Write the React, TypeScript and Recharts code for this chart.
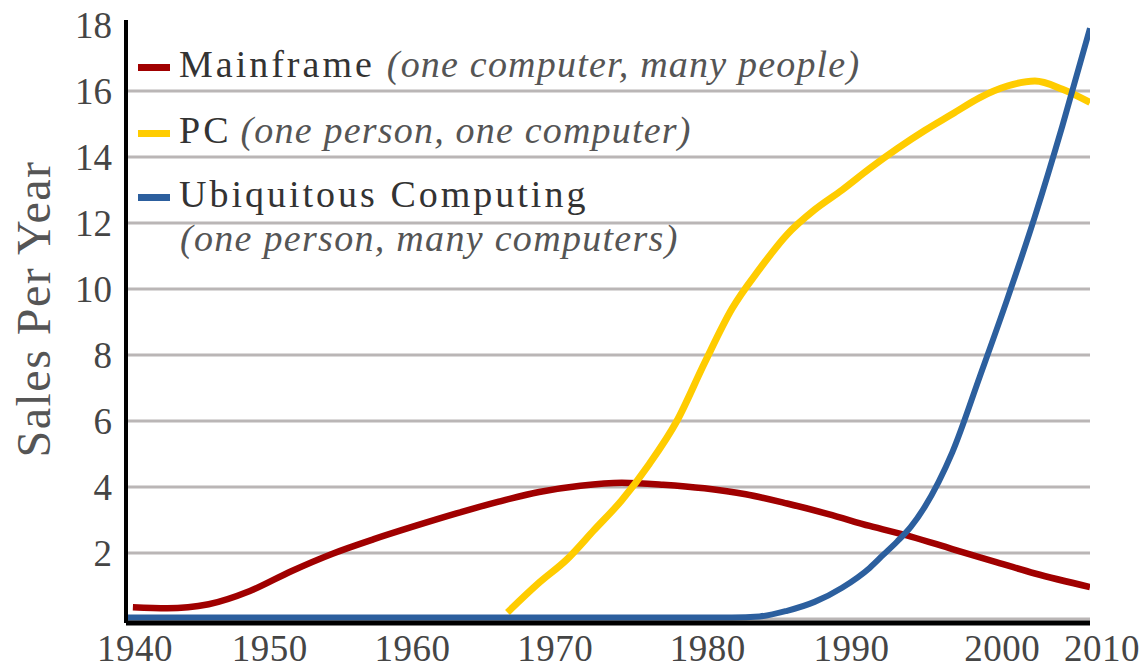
import { LineChart, Line, XAxis, YAxis, CartesianGrid, Legend, Label } from "recharts";

const YEAR_TICKS = [1940, 1950, 1960, 1970, 1980, 1990, 2000, 2010];
const SALES_TICKS = [2, 4, 6, 8, 10, 12, 14, 16, 18];
const GRID_VALUES = [0, 2, 4, 6, 8, 10, 12, 14, 16];

// the year labels in the original sit a bit off their gridpoints
const TICK_NUDGE: Record<number, number> = {
  1940: 9, 1950: 6, 1960: 11, 1970: 16, 1980: 31, 1990: 37, 2000: 50, 2010: 12,
};

const mainframeYears = [1940.5, 1943, 1946, 1949, 1952, 1955, 1958, 1961, 1964, 1967, 1970, 1973, 1976, 1979, 1982, 1985, 1988, 1991, 1994, 1997, 2000, 2003, 2006, 2010];
const mainframeSales = [0.36, 0.33, 0.45, 0.85, 1.45, 1.98, 2.42, 2.82, 3.2, 3.55, 3.85, 4.04, 4.13, 4.07, 3.96, 3.78, 3.5, 3.18, 2.82, 2.5, 2.12, 1.75, 1.38, 0.97];

const pcYears = [1967.7, 1970, 1972, 1974, 1976, 1978, 1980, 1982, 1984, 1986, 1988, 1990, 1992, 1994, 1996, 1998, 2000, 2002, 2004, 2006, 2008, 2010];
const pcSales = [0.2, 1.1, 1.8, 2.7, 3.6, 4.7, 6.0, 7.75, 9.4, 10.6, 11.65, 12.4, 13.0, 13.65, 14.25, 14.8, 15.3, 15.8, 16.15, 16.3, 16.05, 15.65];

const ubiqYears = [1940, 1950, 1960, 1970, 1980, 1984, 1986, 1988, 1990, 1992, 1994, 1995, 1996, 1997, 1998, 1999, 2000, 2002, 2004, 2006, 2008, 2010];
const ubiqSales = [0.05, 0.05, 0.05, 0.05, 0.05, 0.05, 0.08, 0.25, 0.52, 0.95, 1.55, 1.95, 2.35, 2.8, 3.4, 4.15, 5.05, 7.35, 9.7, 12.2, 14.95, 17.9];

const toRows = (years: number[], sales: number[]) =>
  years.map((year, i) => ({ year, sales: sales[i] }));

const SERIES = [
  { key: "mainframe", name: "Mainframe", note: "(one computer, many people)", color: "#a00000", width: 6.5, data: toRows(mainframeYears, mainframeSales) },
  { key: "pc", name: "PC", note: "(one person, one computer)", color: "#ffcc00", width: 7, data: toRows(pcYears, pcSales) },
  { key: "ubiq", name: "Ubiquitous Computing", note: "(one person, many computers)", color: "#2c5f9e", width: 6, data: toRows(ubiqYears, ubiqSales) },
];

const FONT = "'Liberation Serif', 'DejaVu Serif', serif";
const X_DOMAIN = [1940, 2010];
const Y_DOMAIN = [-0.12, 18.15];

const XTick = ({ x, y, payload }: any) => (
  <text
    x={x + (TICK_NUDGE[payload.value] ?? 0)}
    y={y}
    dy="0.71em"
    textAnchor="middle"
    fontFamily={FONT}
    fontSize={37}
    letterSpacing={0.5}
    fill="#454545"
  >
    {payload.value}
  </text>
);

const YTick = ({ x, y, payload }: any) => (
  <text x={x} y={y} dy="0.34em" textAnchor="end" fontFamily={FONT} fontSize={37} fill="#454545">
    {payload.value}
  </text>
);

const baselines = [77, 143, 207];
const noteGap = [12, 9];

const LegendBox = () => (
  <svg width={920} height={270} style={{ display: "block" }}>
    {SERIES.map((s, i) => (
      <g key={s.key}>
        <rect x={138} y={baselines[i] - 13} width={32} height={7} fill={s.color} />
        <text x={179} y={baselines[i]} fontFamily={FONT} fontSize={38} letterSpacing={3} fill="#333">
          {s.name}
          {i < 2 && (
            <tspan dx={noteGap[i]} fontStyle="italic" letterSpacing={1.2} fill="#555">
              {s.note}
            </tspan>
          )}
        </text>
      </g>
    ))}
    <text x={180} y={251} fontFamily={FONT} fontSize={38} fontStyle="italic" letterSpacing={1.3} fill="#555">
      {SERIES[2].note}
    </text>
  </svg>
);

export default function App() {
  return (
    <div style={{ position: "absolute", left: 0, top: 0 }}>
      <LineChart width={1142} height={668} margin={{ top: 20, right: 52, left: 0, bottom: 0 }}>
        <CartesianGrid
          vertical={false}
          horizontalValues={GRID_VALUES}
          stroke="#bab6b6"
          strokeWidth={3}
        />
        <XAxis
          dataKey="year"
          type="number"
          domain={X_DOMAIN}
          ticks={YEAR_TICKS}
          interval={0}
          height={45}
          tickSize={0}
          tickMargin={12}
          tick={<XTick />}
          axisLine={{ stroke: "#000", strokeWidth: 5 }}
          allowDataOverflow
        />
        <XAxis
          xAxisId="top"
          orientation="top"
          type="number"
          domain={X_DOMAIN}
          height={0}
          tick={false}
          tickLine={false}
          axisLine={{ stroke: "#4d4d4d", strokeWidth: 5 }}
        />
        <YAxis
          type="number"
          domain={Y_DOMAIN}
          ticks={SALES_TICKS}
          interval={0}
          width={126}
          tickSize={0}
          tickMargin={14}
          tick={<YTick />}
          axisLine={{ stroke: "#000", strokeWidth: 4 }}
          allowDataOverflow
        >
          <Label
            content={() => (
              <text
                x={50}
                y={309}
                transform="rotate(-90 50 309)"
                textAnchor="middle"
                fontFamily={FONT}
                fontSize={48}
                letterSpacing={1.5}
                fill="#555"
              >
                Sales Per Year
              </text>
            )}
          />
        </YAxis>
        <YAxis
          yAxisId="right"
          orientation="right"
          type="number"
          domain={Y_DOMAIN}
          width={0}
          tick={false}
          tickLine={false}
          axisLine={{ stroke: "#4d4d4d", strokeWidth: 5 }}
        />
        <Legend
          layout="horizontal"
          align="center"
          verticalAlign="middle"
          content={<LegendBox />}
          wrapperStyle={{ position: "absolute", left: 0, top: 0, width: 920, height: 270 }}
        />
        {SERIES.map((s) => (
          <Line
            key={s.key}
            data={s.data}
            dataKey="sales"
            name={s.name}
            type="monotone"
            stroke={s.color}
            strokeWidth={s.width}
            dot={false}
            activeDot={false}
            isAnimationActive={false}
          />
        ))}
      </LineChart>
    </div>
  );
}
